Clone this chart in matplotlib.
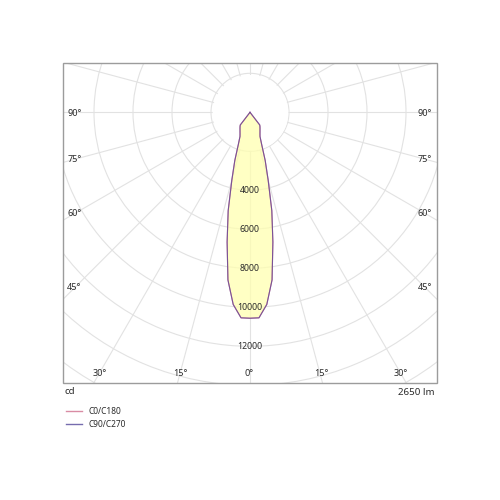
import numpy as np
import matplotlib
matplotlib.use("Agg")
import matplotlib.pyplot as plt
from matplotlib.patches import Rectangle
from matplotlib.lines import Line2D

plt.rcParams['font.family'] = ['Noto Sans', 'DejaVu Sans']

# ---- data ----
gamma_deg = [0, 2.5, 5, 7.5, 10, 12.5, 15, 17.5, 20, 22.5, 25, 27.5, 30,
             32.5, 35, 37.5, 40, 60, 90, 120, 150, 180]
c0_c180 = [10560, 10550, 9890, 8670, 6760, 5170, 3600, 2590, 1740, 1340,
           1210, 1110, 1025, 955, 890, 820, 0, 0, 0, 0, 0, 0]
c90_c270 = [10560, 10550, 9890, 8670, 6760, 5170, 3600, 2590, 1740, 1340,
            1210, 1110, 1025, 955, 890, 820, 0, 0, 0, 0, 0, 0]
ring_values = [2000, 4000, 6000, 8000, 10000, 12000, 14000, 16000, 18000, 20000]
ring_labels = [4000, 6000, 8000, 10000, 12000]
series_names = ["C0/C180", "C90/C270"]
series_colors = ['#d0708e', '#54479a']
flux_text = "2650 lm"
unit_text = "cd"

# ---- figure layout ----
W = H = 500
fig = plt.figure(figsize=(5, 5), dpi=100)
cx, cy = 250, 112.3          # polar centre in pixels (from top-left)
px_per_cd = 0.0195
rmax = ring_values[-1]
rad_px = rmax * px_per_cd
ax = fig.add_axes([(cx - rad_px) / W, (H - cy - rad_px) / H,
                   2 * rad_px / W, 2 * rad_px / H], projection='polar')
ax.set_theta_zero_location('S')
ax.set_rlim(0, rmax)
ax.set_xticks(np.deg2rad(np.arange(0, 360, 15)))
ax.set_xticklabels([])
ax.set_yticks(ring_values)
ax.set_yticklabels([])
ax.set_axisbelow(True)
ax.grid(True, color='#e2e2e2', lw=0.8)
ax.spines['polar'].set_visible(False)
ax.patch.set_visible(False)

box = (63, 63, 437, 383)  # x0, y0, x1, y1 in pixels from top-left
def clip_rect():
    return Rectangle((box[0] / W, 1 - box[3] / H), (box[2] - box[0]) / W,
                     (box[3] - box[1]) / H, transform=fig.transFigure)

def full(vals):
    g = np.array(gamma_deg)
    v = np.array(vals)
    th = np.deg2rad(np.concatenate([-g[::-1], g[1:]]))
    rr = np.concatenate([v[::-1], v[1:]])
    return th, rr

# white hub disk hiding the grid inside the first ring
tt = np.linspace(0, 2 * np.pi, 300)
disk = ax.fill_between(tt, 0, ring_values[0] * 0.97, color='white', zorder=0.8, lw=0)

th0, r0 = full(c0_c180)
th1, r1 = full(c90_c270)
fill = ax.fill(th0, r0, color='#ffffb0', alpha=0.75, lw=0, zorder=1)
l0, = ax.plot(th0, r0, color=series_colors[0], lw=0.8, zorder=3, label=series_names[0])
l1, = ax.plot(th1, r1, color=series_colors[1], lw=0.8, alpha=0.7, zorder=4, label=series_names[1])

for art in list(ax.xaxis.get_gridlines()) + list(ax.yaxis.get_gridlines()) + [disk] + fill:
    art.set_clip_path(clip_rect())

for r in ring_labels:
    ax.text(0, r, str(r), ha='center', va='center', fontsize=6.3, color='#2a2a2a', zorder=5)

# frame
frame = clip_rect()
frame.set_facecolor('none')
frame.set_edgecolor('#9c9c9c')
frame.set_linewidth(1.0)
fig.add_artist(frame)

def ft(x, y, s, **kw):
    fig.text(x / W, 1 - y / H, s, color='#2a2a2a', va='center', **kw)

side_angles = [90, 75, 60, 45]
side_y = [113.3, 159.8, 213.5, 287.5]
for a, y in zip(side_angles, side_y):
    ft(67.3, y, f"{a}°", ha='left', fontsize=6.5)
    ft(432.0, y, f"{a}°", ha='right', fontsize=6.5)

bottom_angles = [30, 15, 0, 15, 30]
bottom_x = [100, 180.7, 249.5, 321.5, 400.7]
for a, x in zip(bottom_angles, bottom_x):
    ft(x, 373.5, f"{a}°", ha='center', fontsize=6.5)

ft(64.5, 392, unit_text, ha='left', fontsize=7)
ft(434.0, 392.5, flux_text, ha='right', fontsize=7)

handles = [Line2D([], [], color=c, lw=1.0, alpha=0.8) for c in series_colors]
fig.legend(handles=handles, labels=series_names, loc='upper left',
           bbox_to_anchor=(66 / W, 1 - 407 / H),
           frameon=False, fontsize=6, handlelength=1.95, handletextpad=0.8,
           labelspacing=0.45, borderpad=0, borderaxespad=0, labelcolor='#2a2a2a')

fig.savefig('out.png', dpi=100, facecolor='white')
